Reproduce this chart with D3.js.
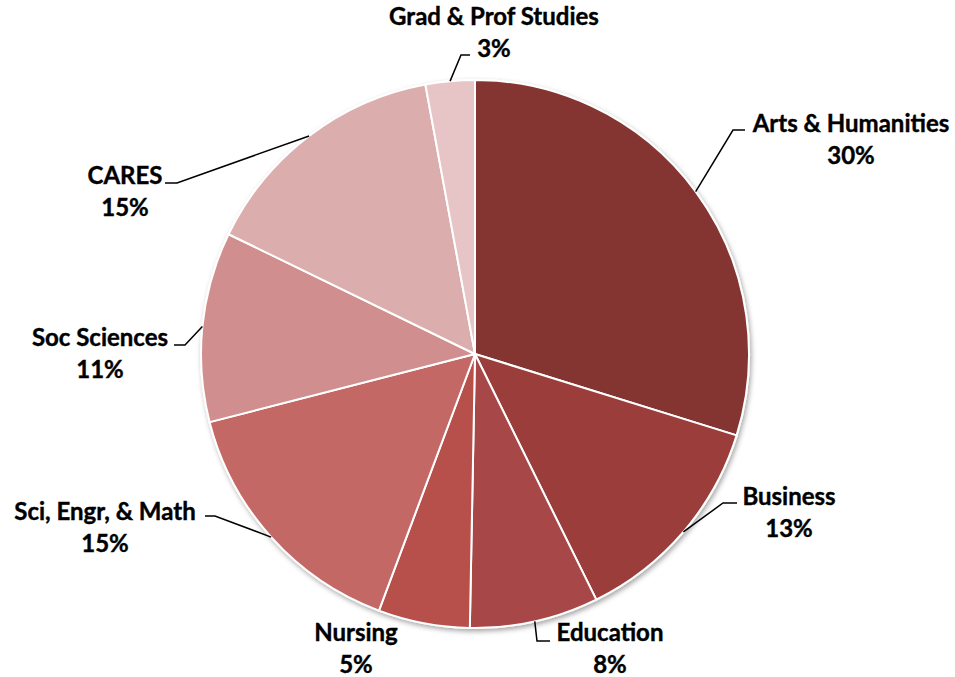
<!DOCTYPE html>
<html>
<head>
<meta charset="utf-8">
<script src="https://cdn.jsdelivr.net/npm/d3@7"></script>
<style>
  body { margin: 0; background: #fff; }
  text { font-family: Lato, "Open Sans", sans-serif; font-weight: 700; fill: #000; }
</style>
</head>
<body>
<div id="chart"></div>
<script>
// data (share of total, %)
var categories = ["Arts & Humanities", "Business", "Education", "Nursing",
                  "Sci, Engr, & Math", "Soc Sciences", "CARES", "Grad & Prof Studies"];
var values = [29.8, 12.9, 7.6, 5.4, 15.3, 11.2, 14.9, 2.9];
var pctLabels = ["30%", "13%", "8%", "5%", "15%", "11%", "15%", "3%"];
var colors = ["#843432", "#9a3c3a", "#a84746", "#b74f4c", "#c46866", "#d08f8e", "#dbadad", "#e7c4c5"];

// label placement: text centre x, first baseline y, leader elbow and end x (null = no leader)
var labelLayout = [
  {x: 851, y: 132, elbow: [733, 130], end: 745},
  {x: 789, y: 505, elbow: [723, 503], end: 737},
  {x: 610, y: 641, elbow: [537, 641], end: 550},
  {x: 356, y: 641, elbow: null},
  {x: 105, y: 520, elbow: [215, 516], end: 205},
  {x: 100, y: 346, elbow: [185, 345], end: 174},
  {x: 125, y: 184, elbow: [177, 183], end: 165},
  {x: 494, y: 25,  elbow: [461, 55], end: 470}
];

var width = 955, height = 677;
var cx = 475, cy = 354, radius = 274;

var svg = d3.select("#chart")
  .append("svg")
  .attr("width", width)
  .attr("height", height);

// soft shadow round the pie
var filter = svg.append("defs").append("filter")
  .attr("id", "shadow")
  .attr("x", "-10%").attr("y", "-10%")
  .attr("width", "120%").attr("height", "120%");
filter.append("feDropShadow")
  .attr("dx", 1.5).attr("dy", 2.5)
  .attr("stdDeviation", 2.5)
  .attr("flood-color", "#000")
  .attr("flood-opacity", 0.35);

var pie = d3.pie().sort(null).value(function(d) { return d; });
var arcs = pie(values);

var arc = d3.arc().innerRadius(0).outerRadius(radius);

var g = svg.append("g")
  .attr("transform", "translate(" + cx + "," + cy + ")");

g.append("g")
  .attr("filter", "url(#shadow)")
  .selectAll("path")
  .data(arcs)
  .enter()
  .append("path")
    .attr("d", arc)
    .style("fill", function(d, i) { return colors[i]; })
    .style("stroke", "#fff")
    .style("stroke-width", 2)
    .style("stroke-linejoin", "round");

// leader lines start at the middle of each slice's rim
arcs.forEach(function(d, i) {
  var L = labelLayout[i];
  if (!L.elbow) return;
  var a = (d.startAngle + d.endAngle) / 2;
  var sx = cx + radius * Math.sin(a), sy = cy - radius * Math.cos(a);
  svg.append("polyline")
    .attr("points", [[sx, sy], L.elbow, [L.end, L.elbow[1]]].map(function(p) { return p.join(","); }).join(" "))
    .style("fill", "none")
    .style("stroke", "#000")
    .style("stroke-width", 1.5);
});

// labels
var labels = svg.selectAll(".lbl")
  .data(categories)
  .enter()
  .append("text")
    .attr("class", "lbl")
    .attr("text-anchor", "middle")
    .style("font-size", "24px")
    .style("stroke", "#000")
    .style("stroke-width", 0.4);

labels.append("tspan")
  .attr("x", function(d, i) { return labelLayout[i].x; })
  .attr("y", function(d, i) { return labelLayout[i].y; })
  .text(function(d) { return d; });

labels.append("tspan")
  .attr("x", function(d, i) { return labelLayout[i].x; })
  .attr("y", function(d, i) { return labelLayout[i].y + 32; })
  .text(function(d, i) { return pctLabels[i]; });
</script>
</body>
</html>
